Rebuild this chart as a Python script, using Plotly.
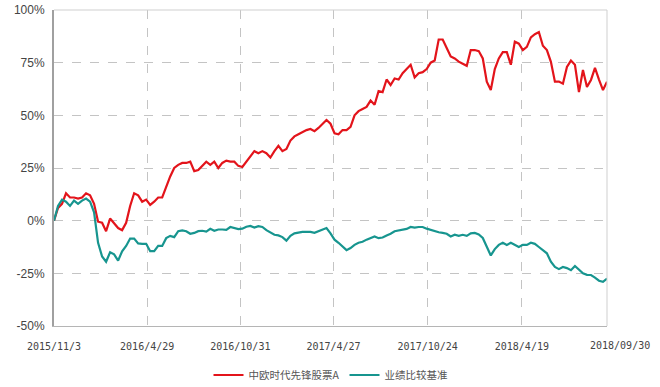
import plotly.graph_objects as go

# Tick labels along the x axis (trading-day sample positions, one sample ≈ 5 trading days)
tick_labels = ["2015/11/3", "2016/4/29", "2016/10/31", "2017/4/27", "2017/10/24", "2018/4/19"]
tick_pos = [0, 23.25, 46.5, 69.75, 93.25, 116.75]
end_label = "2018/09/30"

y_ticks = [-50, -25, 0, 25, 50, 75, 100]

fund_name = "中欧时代先锋股票A"
bench_name = "业绩比较基准"

# cumulative return (%) of the fund
fund = [
    0, 6, 8, 13, 11, 11, 10.5, 11, 13, 12,
    8, -0.5, -1, -5, 1, -1, -3.5, -4.5, -1, 7,
    13, 12, 9, 10, 7.5, 9, 11, 11, 16, 21,
    25, 26.5, 27.4, 27.4, 28, 23.5, 24, 26, 28, 26.5,
    28, 25, 27.4, 28.5, 28, 28, 26, 25.5, 28, 30.5,
    33, 32, 33, 32, 30, 33, 35.5, 33, 34, 38,
    40, 41, 42, 43, 43.5, 42.5, 44, 46, 47.8, 46,
    41.5, 41, 43, 43, 44.5, 50, 52, 53, 54, 57,
    55, 61.5, 61, 67, 64.4, 67.5, 67, 70, 72, 74,
    68, 70, 70.5, 72, 75, 76, 86, 86, 82, 78,
    77, 75.5, 74.5, 73.5, 81, 81, 80.5, 77, 66, 62,
    72, 77, 80, 80, 74, 85, 84, 81, 82.5, 87,
    88.5, 89.5, 83, 81, 75.4, 66, 66, 65, 73, 76,
    74, 61, 71.5, 63.5, 66.8, 72.5, 67, 62, 66,
]

# cumulative return (%) of the benchmark
bench = [
    0, 7, 10, 9, 7, 9.5, 8, 9.5, 10.5, 9,
    4, -10.5, -17, -19.5, -15, -16, -19, -14.5, -12, -8.5,
    -8.5, -10.8, -11, -11, -14.5, -14.5, -12, -12, -8.3, -7.2,
    -7.8, -5, -4.6, -5, -6.2, -5.8, -5, -4.8, -5.2, -3.9,
    -4.8, -4.2, -4.2, -4.4, -3, -3.5, -4, -3.8, -2.9, -2.5,
    -3.3, -2.6, -3, -4.5, -5.8, -6.7, -7, -7.8, -9.5, -7.2,
    -6, -5.5, -5.3, -5.3, -5.3, -5.8, -5, -4.4, -3.5, -6,
    -9, -10.5, -12.5, -14, -13, -11.5, -10.5, -10, -9, -8.3,
    -7.5, -8.3, -8, -7, -6.2, -5, -4.6, -4.2, -3.9, -3,
    -3.3, -3, -3, -3.8, -4.4, -4.8, -5.5, -5.8, -6.2, -7.5,
    -6.7, -7.2, -6.7, -7.2, -6, -5.8, -6.5, -8.2, -12.5, -16.5,
    -13.5, -11.5, -10.5, -11.5, -10.5, -11.5, -12.5, -11.5, -11.5, -10.5,
    -11, -12.5, -14, -15.5, -19.5, -22, -23, -22, -22.5, -23.5,
    -21.5, -23.5, -25, -25.7, -25.8, -27, -28.5, -29, -27.5,
]

x = list(range(len(fund)))
x_end = len(fund) - 1

fig = go.Figure()
fig.add_trace(go.Scatter(x=x, y=fund, mode="lines", name=fund_name,
                         line=dict(color="#e3141b", width=2.2)))
fig.add_trace(go.Scatter(x=x, y=bench, mode="lines", name=bench_name,
                         line=dict(color="#17958f", width=2.2)))

grid = "#c4c4c4"
fig.update_layout(
    width=660, height=387,
    margin=dict(l=54, r=53, t=10, b=61, autoexpand=False),
    paper_bgcolor="white", plot_bgcolor="white",
    showlegend=True,
    legend=dict(orientation="h", x=0.5, xanchor="center", y=-0.155, yanchor="middle",
                font=dict(family="Noto Sans CJK SC", size=10.5, color="#555"),
                itemwidth=30),
    xaxis=dict(range=[0, x_end], tickmode="array", tickvals=tick_pos, ticktext=tick_labels,
               automargin=False,
               showgrid=True, gridcolor=grid, griddash="dash", gridwidth=1,
               zeroline=False, showline=True, linecolor="#b5b5b5", linewidth=1,
               ticks="", ticklabelstandoff=11,
               tickfont=dict(family="DejaVu Sans Mono", size=10, color="#444")),
    yaxis=dict(range=[-50, 100], tickmode="array", tickvals=y_ticks,
               ticktext=[f"{v}%" for v in y_ticks],
               automargin=False, ticklabeloverflow="allow",
               showgrid=True, gridcolor=grid, griddash="dash", gridwidth=1,
               zeroline=False, showline=True, linecolor="#a0a0a0", linewidth=2,
               ticks="", ticklabelstandoff=5,
               tickfont=dict(family="Liberation Sans Narrow, Liberation Sans", size=12, color="#444")),
)

# light border on top and right
fig.add_shape(type="line", xref="paper", yref="paper", x0=0, x1=1, y0=1, y1=1,
              line=dict(color="#cfcfcf", width=1))
fig.add_shape(type="line", xref="paper", yref="paper", x0=1, x1=1, y0=0, y1=1,
              line=dict(color="#cfcfcf", width=1))

fig.add_annotation(text=end_label, xref="paper", yref="paper", x=1, y=0,
                   xanchor="center", yanchor="top", xshift=13, yshift=-12,
                   showarrow=False,
                   font=dict(family="DejaVu Sans Mono", size=10, color="#444"))

fig.write_html("out.html", config={"displayModeBar": False},
               post_script="document.body.style.margin='0';document.body.style.overflow='hidden';")
